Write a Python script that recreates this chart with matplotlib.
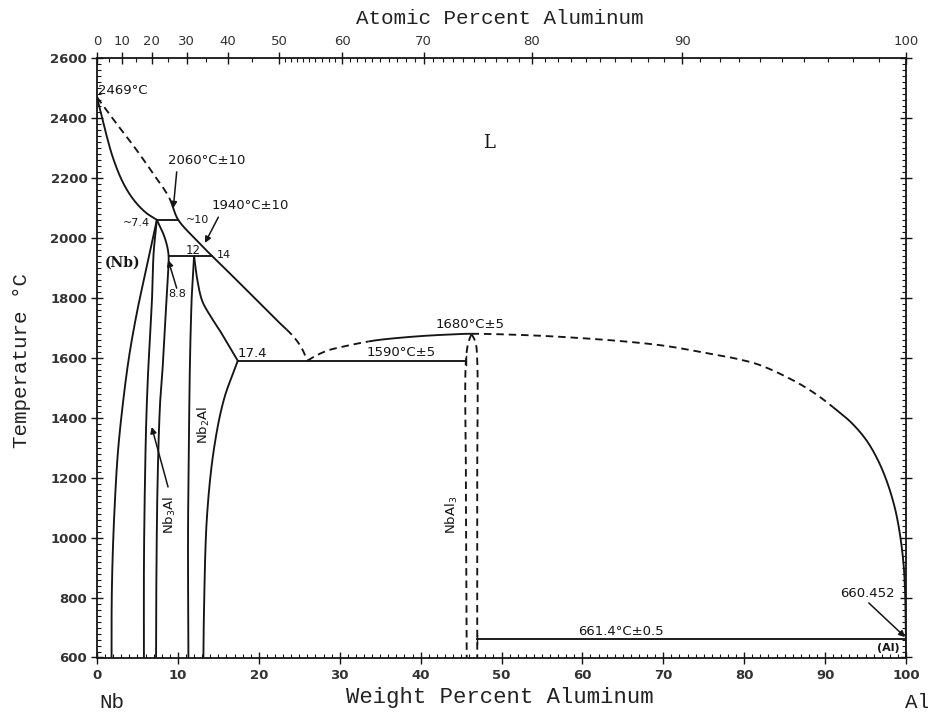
import numpy as np
import matplotlib
matplotlib.use("Agg")
import matplotlib.pyplot as plt
from matplotlib.ticker import MultipleLocator, FixedLocator

# ---- phase boundaries: (weight % Al, temperature in deg C) ----
# liquidus, Nb-rich side (Nb melting point -> eutectic)
liq_nb_w = [0.0, 2.5, 4.7, 7.0, 8.9, 10.0, 12.0, 14.2, 17.0, 19.7, 22.0,
            24.3, 25.3, 26.0]
liq_nb_t = [2469, 2378, 2300, 2212, 2135, 2062, 2000, 1940, 1866, 1793,
            1731, 1670, 1632, 1590]
liq_nb_dashed = [(0.0, 8.9), (23.4, 26.0)]

# liquidus, eutectic -> NbAl3 maximum -> Al melting point
liq_al_w = [26.0, 27.0, 28.5, 30.4, 33.5, 35.0, 38.0, 41.0, 44.0, 46.3,
            57.2, 69.6, 76.0, 79.0, 82.0, 86.5, 89.0, 91.4, 93.3, 95.1,
            96.5, 97.6, 98.5, 99.05, 99.6, 99.85, 100.0]
liq_al_t = [1590, 1606, 1624, 1637, 1654, 1660, 1668, 1674, 1678, 1680,
            1670, 1642, 1612, 1597, 1575, 1518, 1476, 1426, 1382, 1325,
            1260, 1190, 1112, 1044, 939, 846, 660.452]
liq_al_dashed = [(26.0, 33.5), (46.3, 91.0)]

nb_solidus_w = [0.0, 1.0, 2.0, 3.2, 4.5, 6.0, 7.4]
nb_solidus_t = [2469, 2360, 2265, 2185, 2128, 2085, 2060]
nb_solvus_w = [7.4, 6.2, 5.0, 4.0, 3.25, 2.6, 2.22, 1.95, 1.82, 1.8]
nb_solvus_t = [2060, 1910, 1760, 1610, 1459, 1290, 1125, 950, 792, 600]

nb3al_left_w = [7.4, 7.0, 6.8, 6.4, 6.1, 5.9, 5.8, 5.8]
nb3al_left_t = [2060, 1950, 1797, 1600, 1400, 1140, 900, 600]
nb3al_right_w = [7.4, 8.1, 8.6, 8.85, 8.7, 8.5, 8.2, 7.8, 7.5, 7.35, 7.3]
nb3al_right_t = [2060, 2020, 1980, 1940, 1850, 1750, 1600, 1450, 1200, 900, 600]

nb2al_left_w = [12.0, 11.8, 11.7, 11.5, 11.35, 11.25, 11.3]
nb2al_left_t = [1940, 1850, 1797, 1600, 1300, 1000, 600]
nb2al_right_w = [12.0, 12.4, 13.0, 14.0, 15.2, 16.3, 17.4]
nb2al_right_t = [1940, 1860, 1790, 1740, 1690, 1640, 1590]
nb2al_solvus_w = [17.4, 15.7, 14.45, 13.6, 13.25, 13.15]
nb2al_solvus_t = [1590, 1462, 1295, 1073, 795, 600]

nbal3_left_w = [46.3, 45.9, 45.6, 45.6, 45.7]
nbal3_left_t = [1680, 1650, 1590, 1200, 600]
nbal3_right_w = [46.3, 46.8, 47.0, 47.0, 47.0]
nbal3_right_t = [1680, 1650, 1590, 1200, 600]

# invariant (horizontal) reactions
invariant_left = [7.4, 8.85, 17.4, 47.0]
invariant_right = [10.0, 14.2, 45.6, 100.0]
invariant_temp = [2060, 1940, 1590, 661.4]

# tick values
temp_ticks = list(range(600, 2601, 200))
wt_ticks = list(range(0, 101, 10))
at_ticks = list(range(0, 101, 10))

M_AL = 26.98
M_NB = 92.906


def at_to_wt(a):
    a = np.asarray(a, dtype=float)
    return 100.0 * a * M_AL / (a * M_AL + (100.0 - a) * M_NB)


SX, SY = 809.0 / 100.0, 600.0 / 2000.0   # plot units per wt% / per deg C


def smooth(w, t, n=30):
    """Centripetal Catmull-Rom curve through the given boundary points."""
    p = np.column_stack([np.asarray(w, float) * SX, np.asarray(t, float) * SY])
    if len(p) < 3:
        return np.asarray(w, float), np.asarray(t, float)
    ext = np.vstack([2 * p[0] - p[1], p, 2 * p[-1] - p[-2]])
    out = [p[0]]
    for i in range(1, len(ext) - 2):
        P0, P1, P2, P3 = ext[i - 1], ext[i], ext[i + 1], ext[i + 2]
        t0 = 0.0
        t1 = t0 + max(np.linalg.norm(P1 - P0), 1e-6) ** 0.5
        t2 = t1 + max(np.linalg.norm(P2 - P1), 1e-6) ** 0.5
        t3 = t2 + max(np.linalg.norm(P3 - P2), 1e-6) ** 0.5
        for s in np.linspace(t1, t2, n)[1:]:
            A1 = (t1 - s) / (t1 - t0) * P0 + (s - t0) / (t1 - t0) * P1
            A2 = (t2 - s) / (t2 - t1) * P1 + (s - t1) / (t2 - t1) * P2
            A3 = (t3 - s) / (t3 - t2) * P2 + (s - t2) / (t3 - t2) * P3
            B1 = (t2 - s) / (t2 - t0) * A1 + (s - t0) / (t2 - t0) * A2
            B2 = (t3 - s) / (t3 - t1) * A2 + (s - t1) / (t3 - t1) * A3
            out.append((t2 - s) / (t2 - t1) * B1 + (s - t1) / (t2 - t1) * B2)
    out = np.array(out)
    return out[:, 0] / SX, out[:, 1] / SY


ink = "#151515"
lw = 1.35
dash = (0, (4.0, 2.6))

fig = plt.figure(figsize=(9.29, 7.14), dpi=100)
ax = fig.add_axes([97 / 929, 1 - 657.5 / 714, (906 - 97) / 929, (657.5 - 58) / 714])
ax.set_xlim(0, 100)
ax.set_ylim(600, 2600)


def line(w, t, dashed=False):
    xs, ys = smooth(w, t)
    ax.plot(xs, ys, color=ink, lw=lw, ls=dash if dashed else "-",
            solid_capstyle="butt", dash_capstyle="butt", zorder=3)


def curve(w, t, dashed_ranges):
    """Smooth curve drawn solid, with dashed stretches over given wt% ranges."""
    xs, ys = smooth(w, t)
    is_dash = np.zeros(len(xs), bool)
    for a, b in dashed_ranges:
        is_dash |= (xs >= a) & (xs <= b)
    start = 0
    for i in range(1, len(xs) + 1):
        if i == len(xs) or is_dash[i] != is_dash[start]:
            j = min(i + 1, len(xs))
            ax.plot(xs[start:j], ys[start:j], color=ink, lw=lw,
                    ls=dash if is_dash[start] else "-",
                    solid_capstyle="butt", dash_capstyle="butt", zorder=3)
            start = i


curve(liq_nb_w, liq_nb_t, liq_nb_dashed)
curve(liq_al_w, liq_al_t, liq_al_dashed)
line(nb_solidus_w, nb_solidus_t)
line(nb_solvus_w, nb_solvus_t)
line(nb3al_left_w, nb3al_left_t)
line(nb3al_right_w, nb3al_right_t)
line(nb2al_left_w, nb2al_left_t)
line(nb2al_right_w, nb2al_right_t)
line(nb2al_solvus_w, nb2al_solvus_t)
line(nbal3_left_w, nbal3_left_t, True)
line(nbal3_right_w, nbal3_right_t, True)
for x0, x1, t in zip(invariant_left, invariant_right, invariant_temp):
    ax.plot([x0, x1], [t, t], color=ink, lw=lw, zorder=3)
# short end marks on the eutectic and the Al-side horizontal
ax.plot([45.6, 45.6], [1575, 1605], color=ink, lw=1.0)
ax.plot([47.0, 47.0], [646, 676], color=ink, lw=1.0)
ax.plot([100, 100], [600, 660.452], color=ink, lw=lw)

# ---- labels on the diagram ----
fs = 9.5
tkw = dict(color=ink, fontsize=fs, family="DejaVu Sans")
ax.text(0.1, 2493, "2469°C", ha="left", va="center", **tkw)
ax.text(48.5, 2316, "L", ha="center", va="center", color=ink, fontsize=13,
        family="DejaVu Serif")
ax.text(3.1, 1916, "(Nb)", ha="center", va="center", color=ink, fontsize=10,
        family="DejaVu Serif", fontweight="bold")
ax.text(6.55, 2049, "~7.4", ha="right", va="center", color=ink, fontsize=8)
ax.text(11.0, 2059, "~10", ha="left", va="center", color=ink, fontsize=8)
ax.text(11.9, 1959, "12", ha="center", va="center", color=ink, fontsize=8.5)
ax.text(14.8, 1943, "14", ha="left", va="center", color=ink, fontsize=8)
ax.text(17.4, 1594, "17.4", ha="left", va="bottom", **tkw)
ax.text(37.6, 1596, "1590°C±5", ha="center", va="bottom", **tkw)
ax.text(46.1, 1690, "1680°C±5", ha="center", va="bottom", **tkw)
ax.text(64.8, 666, "661.4°C±0.5", ha="center", va="bottom", **tkw)
ax.text(97.8, 632, "(Al)", ha="center", va="center", color=ink, fontsize=8,
        fontweight="bold")
ax.text(13.2, 1375, "Nb$_2$Al", rotation=90, ha="center", va="center", **tkw)
ax.text(9.0, 1075, "Nb$_3$Al", rotation=90, ha="center", va="center", **tkw)
ax.text(43.9, 1075, "NbAl$_3$", rotation=90, ha="center", va="center", **tkw)

akw = dict(arrowstyle="-|>", color=ink, lw=1.1, mutation_scale=9,
           shrinkA=0, shrinkB=0)
ax.text(13.6, 2259, "2060°C±10", ha="center", va="center", **tkw)
ax.annotate("", xy=(9.43, 2099), xytext=(9.85, 2220), arrowprops=akw)
ax.text(19.0, 2109, "1940°C±10", ha="center", va="center", **tkw)
ax.annotate("", xy=(13.35, 1983), xytext=(15.0, 2069), arrowprops=akw)
ax.text(9.95, 1812, "8.8", ha="center", va="center", color=ink, fontsize=8)
ax.annotate("", xy=(8.8, 1926), xytext=(9.85, 1832), arrowprops=akw)
ax.annotate("", xy=(6.76, 1369), xytext=(8.78, 1169), arrowprops=akw)
ax.text(95.2, 815, "660.452", ha="center", va="center", **tkw)
ax.annotate("", xy=(99.9, 668), xytext=(95.4, 782), arrowprops=akw)

# ---- axes, ticks ----
for s in ax.spines.values():
    s.set_linewidth(1.3)
    s.set_color(ink)

ax.yaxis.set_major_locator(FixedLocator(temp_ticks))
ax.yaxis.set_minor_locator(MultipleLocator(20))
ax.xaxis.set_major_locator(FixedLocator(wt_ticks))
ax.xaxis.set_minor_locator(MultipleLocator(1))
ax.tick_params(axis="both", which="major", direction="inout", length=8,
               width=1.0, color=ink, labelsize=9.5, labelcolor="#333333")
ax.tick_params(axis="both", which="minor", direction="in", length=3,
               width=0.8, color=ink)
ax.tick_params(axis="y", right=True, which="both")
ax.tick_params(axis="x", top=False, which="both")
ax.tick_params(axis="x", which="major", pad=4)
ax.tick_params(axis="y", which="major", pad=3)
for lab in ax.get_xticklabels() + ax.get_yticklabels():
    lab.set_fontweight("bold")

top = ax.twiny()
top.set_xlim(0, 100)
top.xaxis.set_major_locator(FixedLocator(at_to_wt(at_ticks)))
top.set_xticklabels([str(a) for a in at_ticks])
minor_at = [a for a in range(0, 101) if a % 10 and (a >= 50 or a % 5 == 0)]
top.xaxis.set_minor_locator(FixedLocator(at_to_wt(minor_at)))
top.tick_params(axis="x", which="major", direction="inout", length=8,
                width=1.0, color=ink, labelsize=9.5, labelcolor="#333333", pad=3)
top.tick_params(axis="x", which="minor", direction="in", length=3,
                width=0.8, color=ink)
for s in top.spines.values():
    s.set_visible(False)

# ---- axis titles ----
title_font = dict(family="Liberation Mono", color="#222222")
fig.text(500 / 929, 1 - 18 / 714, "Atomic Percent Aluminum", ha="center",
         va="center", fontsize=15, **title_font)
fig.text(500 / 929, 1 - 697 / 714, "Weight Percent Aluminum", ha="center",
         va="center", fontsize=16, **title_font)
fig.text(22 / 929, 1 - 360 / 714, "Temperature °C", ha="center",
         va="center", rotation=90, fontsize=15, **title_font)
fig.text(112 / 929, 1 - 703 / 714, "Nb", ha="center", va="center",
         fontsize=15, **title_font)
fig.text(918 / 929, 1 - 703 / 714, "Al", ha="center", va="center",
         fontsize=15, **title_font)

fig.savefig("out.png", dpi=100, facecolor="white")
